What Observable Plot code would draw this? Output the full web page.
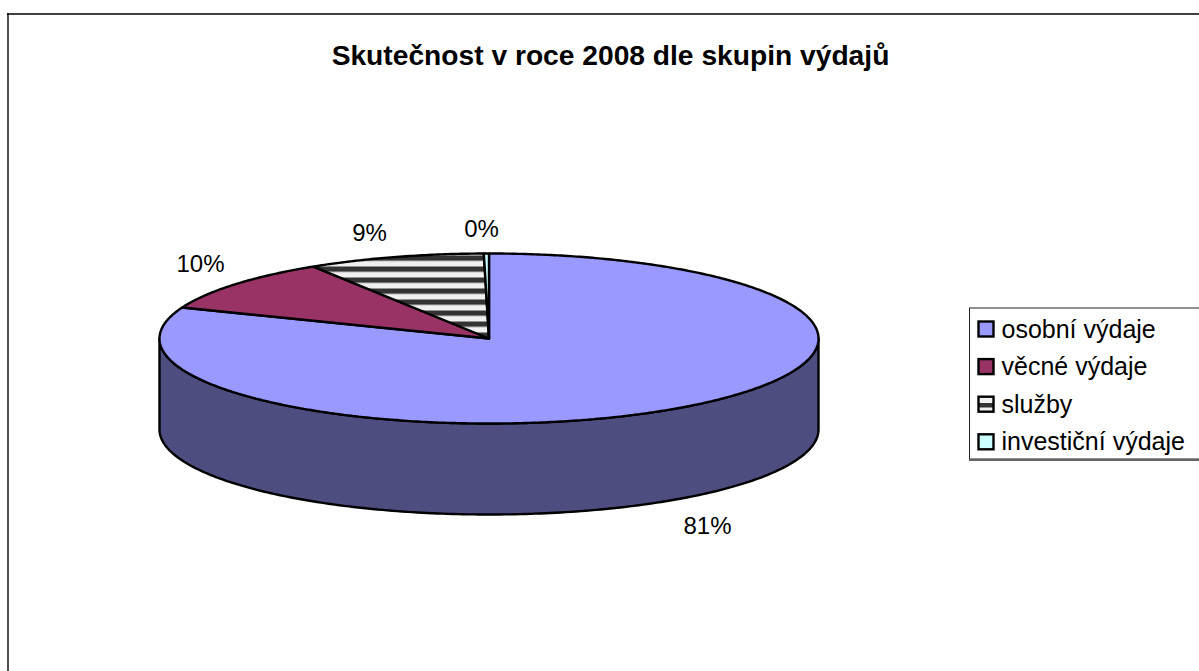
<!DOCTYPE html>
<html>
<head>
<meta charset="utf-8">
<style>
html,body{margin:0;padding:0;background:#fff;overflow:hidden}
svg{display:block}
</style>
<script src="https://cdn.jsdelivr.net/npm/d3@7"></script>
<script src="https://cdn.jsdelivr.net/npm/@observablehq/plot@0.6"></script>
</head>
<body>
<div id="chart"></div>
<script>
const categories = ["osobní výdaje", "věcné výdaje", "služby", "investiční výdaje"];
const shares = [80.95, 10.1, 8.7, 0.25];
const colors = ["#9999ff", "#993366", "url(#stripes)", "#ccffff"];
const legendColors = ["#9999ff", "#993366", "url(#stripesKey)", "#ccffff"];
const titleText = "Skutečnost v roce 2008 dle skupin výdajů";

const W = 1199, H = 671;
const pie = {cx: 488.5, cy: 338, rx: 329.5, ry: 85, depth: 91};
const labelPos = [[707, 526], [200, 264], [369, 233], [481, 229]];
const FONT = "Liberation Sans, Arial, sans-serif";

const pt = (a, dy = 0) => ({
  x: pie.cx + pie.rx * Math.sin(a),
  y: pie.cy - pie.ry * Math.cos(a) + dy
});

// slices, clockwise from twelve o'clock
const total = d3.sum(shares);
let acc = 0;
const slicePts = [];
categories.forEach((name, i) => {
  const a0 = acc / total * 2 * Math.PI;
  acc += shares[i];
  const a1 = acc / total * 2 * Math.PI;
  const n = Math.max(2, Math.ceil((a1 - a0) / 0.01));
  const path = [{x: pie.cx, y: pie.cy}];
  for (let k = 0; k <= n; k++) path.push(pt(a0 + (a1 - a0) * k / n));
  path.push({x: pie.cx, y: pie.cy});
  path.forEach(p => slicePts.push({...p, name}));
});

// front wall of the pie
const wall = [];
for (let k = 0; k <= 200; k++) wall.push(pt(Math.PI / 2 + Math.PI * k / 200, pie.depth));
for (let k = 200; k >= 0; k--) wall.push(pt(Math.PI / 2 + Math.PI * k / 200));
wall.push(wall[0]);

const pctLabels = categories.map((name, i) => ({
  text: Math.round(shares[i]) + "%", x: labelPos[i][0], y: labelPos[i][1]
}));

const legendRows = categories.map((name, i) => ({
  name, fill: legendColors[i], y: 329 + i * 37.6
}));

const plot = Plot.plot({
  width: W, height: H,
  margin: 0,
  style: {background: "#fff", fontFamily: FONT},
  x: {domain: [0, W], range: [0, W], axis: null},
  y: {domain: [0, H], range: [0, H], axis: null},
  color: {domain: categories, range: colors},
  marks: [
    Plot.ruleY([13.5], {x1: 7, x2: W, stroke: "#000", strokeWidth: 1.6}),
    Plot.ruleX([7.5], {y1: 13, y2: H, stroke: "#000", strokeWidth: 1.4}),
    Plot.line(wall, {x: "x", y: "y", fill: "#4d4d80", stroke: "#000", strokeWidth: 2.4, strokeLinejoin: "round"}),
    Plot.line(slicePts, {x: "x", y: "y", z: "name", fill: "name", stroke: "#000", strokeWidth: 2.4, strokeLinejoin: "miter"}),
    Plot.text(pctLabels, {x: "x", y: "y", text: "text", fontSize: 24, fontFamily: FONT, fill: "#000"}),
    Plot.text([titleText], {x: 610, y: 55, fontSize: 28.2, fontWeight: "bold", fontFamily: FONT, fill: "#000"}),
    // legend
    Plot.rect([0], {x1: 969.5, x2: W + 10, y1: 308, y2: 459, fill: "#fff", stroke: "#222", strokeWidth: 1}),
    Plot.ruleY([459.5], {x1: 969, x2: W, stroke: "#666", strokeWidth: 2}),
    Plot.rect(legendRows, {x1: 978.5, x2: 993.5, y1: d => d.y - 7.5, y2: d => d.y + 7.5, fill: "fill", stroke: "#000", strokeWidth: 2.4}),
    Plot.text(legendRows, {x: 1001, y: "y", text: "name", textAnchor: "start", fontSize: 25, fontFamily: FONT, fill: "#000"})
  ]
});

d3.select(plot).insert("defs", ":first-child").html(`
  <pattern id="stripes" patternUnits="userSpaceOnUse" width="11" height="11" patternTransform="translate(0,2)">
    <rect width="11" height="11" fill="#f0f0f0"></rect>
    <rect width="11" height="5.3" fill="#333"></rect>
  </pattern>
  <pattern id="stripesKey" patternUnits="userSpaceOnUse" width="15" height="15" patternTransform="translate(0,403)">
    <rect width="15" height="15" fill="#f0f0f0"></rect>
    <rect width="15" height="4.5" fill="#333"></rect>
  </pattern>`);
document.getElementById("chart").append(plot);
</script>
</body>
</html>
